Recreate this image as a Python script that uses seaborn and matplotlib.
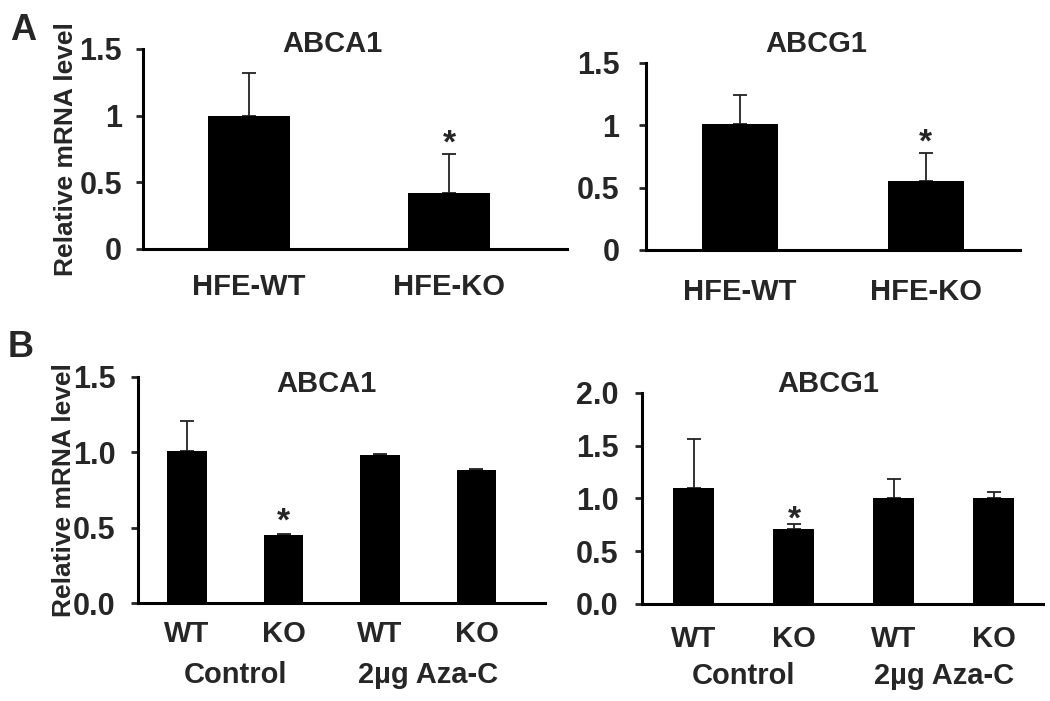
import numpy as np
import pandas as pd
import matplotlib
matplotlib.use("Agg")
import matplotlib.pyplot as plt
import seaborn as sns

# panel A: HFE-WT vs HFE-KO
a_cats = ['HFE-WT', 'HFE-KO']
a_abca1_mean = [1.00, 0.42]
a_abca1_err = [0.32, 0.29]
a_abcg1_mean = [1.01, 0.55]
a_abcg1_err = [0.23, 0.23]

# panel B: WT / KO under control and Aza-C
b_geno = ['WT', 'KO', 'WT', 'KO']
b_groups = ['Control', 'Control', '2µg Aza-C', '2µg Aza-C']
b_abca1_mean = [1.01, 0.45, 0.98, 0.88]
b_abca1_err = [0.20, 0.01, 0.01, 0.01]
b_abcg1_mean = [1.10, 0.71, 1.00, 1.00]
b_abcg1_err = [0.46, 0.05, 0.18, 0.06]

sns.set_style('ticks')
plt.rcParams['font.family'] = ['Liberation Sans', 'DejaVu Sans']
plt.rcParams['font.weight'] = 'bold'


def panel(ax, labels, means, errs, title, title_xy, ylim, yticks, yfmt,
          xlim, star_idx, star_off, xpad, ypad, groups=None, ylabel=None):
    keys = [f'{i}' for i in range(len(labels))]
    df = pd.DataFrame({'key': keys, 'val': means})
    sns.barplot(data=df, x='key', y='val', color='black', width=0.41,
                errorbar=None, saturation=1, ax=ax, zorder=2)
    for p in ax.patches:
        p.set_edgecolor('none')
    x = np.arange(len(labels))
    ax.errorbar(x, means, yerr=[np.zeros(len(errs)), errs], fmt='none',
                ecolor='#222222', elinewidth=1.3, capsize=5, capthick=1.3, zorder=1)
    ax.annotate('*', xy=(x[star_idx], means[star_idx] + errs[star_idx]),
                xytext=(0, star_off), textcoords='offset points',
                ha='center', va='baseline', fontsize=24, fontweight='bold')
    ax.set_ylim(*ylim)
    ax.set_xlim(*xlim)
    ax.set_yticks(yticks)
    ax.set_yticklabels([yfmt(v) for v in yticks])
    ax.set_xticks(x)
    ax.set_xticklabels(labels)
    ax.tick_params(axis='y', direction='out', length=5, width=2, labelsize=22, pad=ypad)
    ax.tick_params(axis='x', length=0, labelsize=21, pad=xpad)
    for s in ['top', 'right']:
        ax.spines[s].set_visible(False)
    for s in ['left', 'bottom']:
        ax.spines[s].set_linewidth(2.2)
        ax.spines[s].set_color('black')
    ax.set_xlabel('')
    if ylabel:
        ax.set_ylabel(ylabel, fontsize=19, fontweight='bold')
        ax.yaxis.set_label_coords(-0.153, 0.5)
    else:
        ax.set_ylabel('')
    ax.text(title_xy[0], title_xy[1], title, transform=ax.transAxes,
            ha='center', va='baseline', fontsize=21, fontweight='bold')
    if groups:
        for g in dict.fromkeys(groups):
            pos = np.mean([i for i, gg in enumerate(groups) if gg == g])
            ax.annotate(g, xy=(pos, 0), xycoords=('data', 'axes fraction'),
                        xytext=(0, -52), textcoords='offset points',
                        ha='center', va='center', fontsize=21, fontweight='bold')


fig = plt.figure(figsize=(10.5, 7.01), dpi=100)
ax1 = fig.add_axes([0.136, 0.6448, 0.404, 0.2853])
ax2 = fig.add_axes([0.615, 0.6434, 0.356, 0.2668])
ax3 = fig.add_axes([0.1314, 0.1398, 0.3876, 0.3224])
ax4 = fig.add_axes([0.6114, 0.1384, 0.3819, 0.301])

fmt_a = lambda v: f'{v:g}'
fmt_b = lambda v: f'{v:.1f}'

panel(ax1, a_cats, a_abca1_mean, a_abca1_err, 'ABCA1', (0.448, 0.985),
      (0, 1.5), [0, 0.5, 1, 1.5], fmt_a, (-0.53, 1.59), 1, 1.5, 17, 10,
      ylabel='Relative mRNA level')
panel(ax2, a_cats, a_abcg1_mean, a_abcg1_err, 'ABCG1', (0.457, 1.059),
      (0, 1.5), [0, 0.5, 1, 1.5], fmt_a, (-0.505, 1.505), 1, 1, 20, 14)
panel(ax3, b_geno, b_abca1_mean, b_abca1_err, 'ABCA1', (0.464, 0.934),
      (0, 1.5), [0, 0.5, 1.0, 1.5], fmt_b, (-0.51, 3.71), 1, 2, 12, 11,
      groups=b_groups, ylabel='Relative mRNA level')
panel(ax4, b_geno, b_abcg1_mean, b_abcg1_err, 'ABCG1', (0.464, 1.005),
      (0, 2.0), [0, 0.5, 1.0, 1.5, 2.0], fmt_b, (-0.52, 3.49), 1, -3.5, 15, 12,
      groups=b_groups)

fig.text(10 / 1050, 1 - 13 / 701, 'A', ha='left', va='top', fontsize=26, fontweight='bold')
fig.text(8 / 1050, 1 - 330 / 701, 'B', ha='left', va='top', fontsize=26, fontweight='bold')

fig.savefig('out.png', dpi=100)
